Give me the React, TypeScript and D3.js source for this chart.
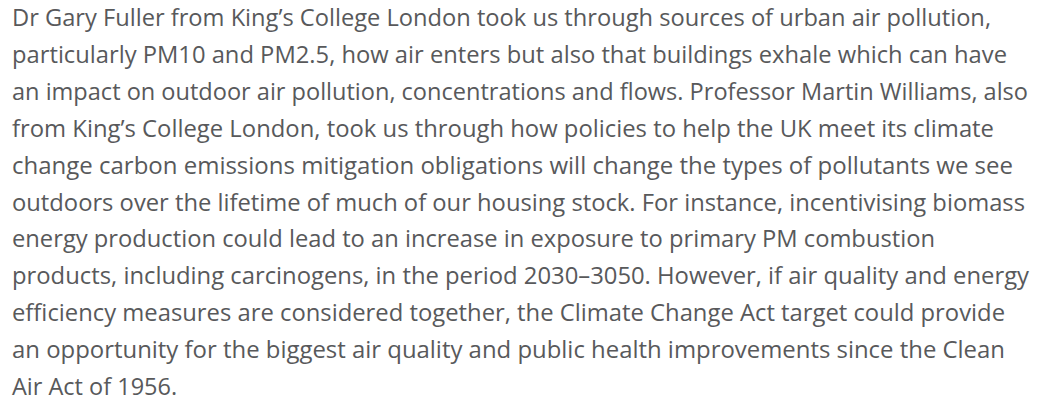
import React, { useEffect, useRef } from "react";
import * as d3 from "d3";

const lines: string[] = [
  "Dr Gary Fuller from King\u2019s College London took us through sources of urban air pollution,",
  "particularly PM10 and PM2.5, how air enters but also that buildings exhale which can have",
  "an impact on outdoor air pollution, concentrations and flows. Professor Martin Williams, also",
  "from King\u2019s College London, took us through how policies to help the UK meet its climate",
  "change carbon emissions mitigation obligations will change the types of pollutants we see",
  "outdoors over the lifetime of much of our housing stock. For instance, incentivising biomass",
  "energy production could lead to an increase in exposure to primary PM combustion",
  "products, including carcinogens, in the period 2030\u20133050. However, if air quality and energy",
  "efficiency measures are considered together, the Climate Change Act target could provide",
  "an opportunity for the biggest air quality and public health improvements since the Clean",
  "Air Act of 1956.",
];

// right edges of each line (null = natural width)
const lineRightEdges: (number | null)[] = [991, 1007, 1028, 994, 1013, 1025, 935, 1029, 1005, 1005, null];

const W = 1045;
const H = 407;
const LEFT = 12;
const FIRST_BASELINE = 26;
const LINE_GAP = 36.9;

export default function App() {
  const ref = useRef<SVGSVGElement | null>(null);
  useEffect(() => {
    const svg = d3.select(ref.current);
    svg.selectAll("*").remove();
    const y = d3
      .scaleLinear()
      .domain([0, lines.length - 1])
      .range([FIRST_BASELINE, FIRST_BASELINE + LINE_GAP * (lines.length - 1)]);
    svg
      .append("rect")
      .attr("width", W)
      .attr("height", H)
      .attr("fill", "#ffffff");
    const t = svg
      .selectAll("text.line")
      .data(lines)
      .join("text")
      .attr("class", "line")
      .attr("x", LEFT)
      .attr("y", (_, i) => y(i))
      .attr("fill", "#58595b")
      .attr("font-family", "'Open Sans', 'Noto Sans', sans-serif")
      .attr("font-size", 23.5)
      .text((d) => d);
    t.each(function (_, i) {
      const r = lineRightEdges[i];
      if (r != null) {
        d3.select(this)
          .attr("textLength", r - LEFT)
          .attr("lengthAdjust", "spacingAndGlyphs");
      }
    });
  }, []);
  return (
    <svg
      ref={ref}
      width={W}
      height={H}
      style={{ position: "absolute", left: 0, top: 0, display: "block" }}
    />
  );
}
